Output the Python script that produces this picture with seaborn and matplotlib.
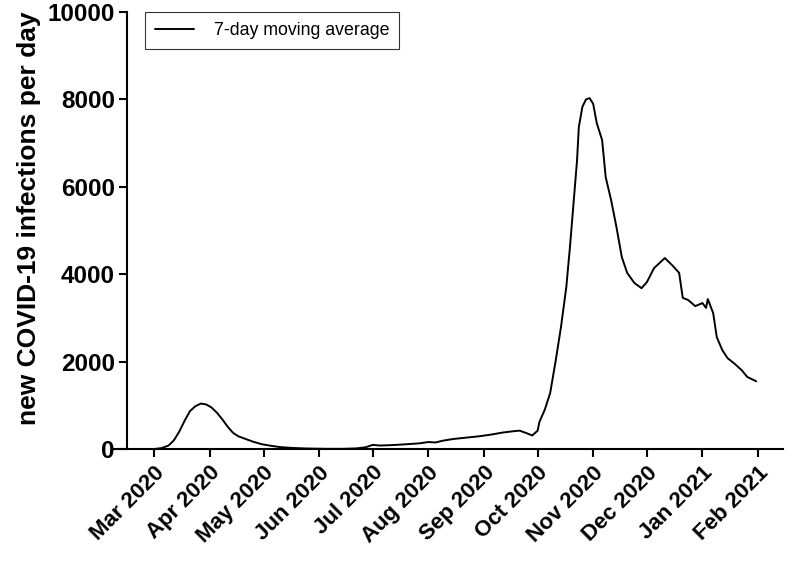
import pandas as pd
import matplotlib.pyplot as plt
import matplotlib.dates as mdates
import seaborn as sns

# 7-day moving average of new infections
dates = [
    "2020-03-01", "2020-03-05", "2020-03-09", "2020-03-12", "2020-03-15", "2020-03-18",
    "2020-03-21", "2020-03-24", "2020-03-27", "2020-03-30", "2020-04-02", "2020-04-05",
    "2020-04-08", "2020-04-11", "2020-04-14", "2020-04-17", "2020-04-21", "2020-04-25",
    "2020-04-30", "2020-05-05", "2020-05-10", "2020-05-17", "2020-05-25", "2020-06-05",
    "2020-06-15", "2020-06-22", "2020-06-27", "2020-07-01", "2020-07-05", "2020-07-12",
    "2020-07-20", "2020-07-27", "2020-08-01", "2020-08-05", "2020-08-09", "2020-08-15",
    "2020-08-22", "2020-08-29", "2020-09-05", "2020-09-12", "2020-09-18", "2020-09-21",
    "2020-09-25", "2020-09-28", "2020-10-01", "2020-10-02", "2020-10-05", "2020-10-08",
    "2020-10-11", "2020-10-14", "2020-10-17", "2020-10-19", "2020-10-21", "2020-10-23",
    "2020-10-24", "2020-10-26", "2020-10-28", "2020-10-30", "2020-11-01", "2020-11-03",
    "2020-11-06", "2020-11-08", "2020-11-11", "2020-11-14", "2020-11-17", "2020-11-20",
    "2020-11-24", "2020-11-28", "2020-12-01", "2020-12-05", "2020-12-11", "2020-12-15",
    "2020-12-19", "2020-12-21", "2020-12-24", "2020-12-28", "2021-01-01", "2021-01-03",
    "2021-01-04", "2021-01-07", "2021-01-09", "2021-01-12", "2021-01-15", "2021-01-19",
    "2021-01-23", "2021-01-26", "2021-01-31",
]
cases = [
    0, 20, 80, 200, 400, 650,
    870, 980, 1040, 1020, 950, 830,
    680, 510, 370, 290, 230, 170,
    110, 75, 45, 25, 12, 5,
    5, 15, 40, 95, 80, 90,
    110, 130, 160, 150, 190, 230,
    260, 290, 330, 380, 410, 420,
    360, 310, 420, 620, 900, 1280,
    2000, 2780, 3700, 4600, 5600, 6600,
    7370, 7830, 8000, 8030, 7900, 7460,
    7070, 6220, 5700, 5080, 4390, 4030,
    3800, 3680, 3820, 4140, 4370, 4210,
    4030, 3460, 3410, 3270, 3340, 3230,
    3430, 3110, 2560, 2270, 2080, 1950,
    1800, 1650, 1550,
]
month_ticks = pd.date_range("2020-03-01", "2021-02-01", freq="MS")

df = pd.DataFrame({"date": pd.to_datetime(dates), "cases": cases})

sns.set_style("ticks")
plt.rcParams["font.family"] = ["Liberation Sans", "DejaVu Sans"]
plt.rcParams["text.color"] = "black"
plt.rcParams["axes.labelcolor"] = "black"
plt.rcParams["xtick.color"] = "black"
plt.rcParams["ytick.color"] = "black"

fig = plt.figure(figsize=(7.87, 5.61), dpi=100)
ax = fig.add_axes([0.1436, 0.1996, 0.8514, 0.779])

sns.lineplot(data=df, x="date", y="cases", color="black", linewidth=1.4,
             label="7-day moving average", ax=ax)

ax.set_xlim(pd.Timestamp("2020-02-07"), pd.Timestamp("2021-02-15"))
ax.set_ylim(0, 10000)
ax.set_yticks([0, 2000, 4000, 6000, 8000, 10000])
ax.set_xticks(month_ticks)
ax.xaxis.set_major_formatter(mdates.DateFormatter("%b %Y"))

# Prism-like axes: y spine sits a bit right of the x axis start
ax.spines["left"].set_position(("data", mdates.date2num(pd.Timestamp("2020-02-15"))))
sns.despine(ax=ax)
for side in ["left", "bottom"]:
    ax.spines[side].set_linewidth(1.5)
    ax.spines[side].set_color("black")
ax.tick_params(axis="both", length=6, width=1.5, color="black", direction="out")
ax.tick_params(axis="y", labelsize=17.5, pad=3)
ax.tick_params(axis="x", labelsize=16)
plt.setp(ax.get_yticklabels(), fontweight="bold")
plt.setp(ax.get_xticklabels(), fontweight="bold", rotation=45, ha="right",
         rotation_mode="anchor")

ax.set_xlabel("")
ax.set_ylabel("new COVID-19 infections per day", fontsize=19, fontweight="bold")
ax.yaxis.set_label_coords(-0.108, 0.527)

leg = ax.legend(loc="upper left", bbox_to_anchor=(0.048, 1.0), borderaxespad=0,
                fontsize=12.8, frameon=True, fancybox=False, edgecolor="black",
                handlelength=2.2, borderpad=0.55, handletextpad=1.1)
leg.get_frame().set_linewidth(0.8)

fig.savefig("out.png", dpi=100)
plt.close(fig)
